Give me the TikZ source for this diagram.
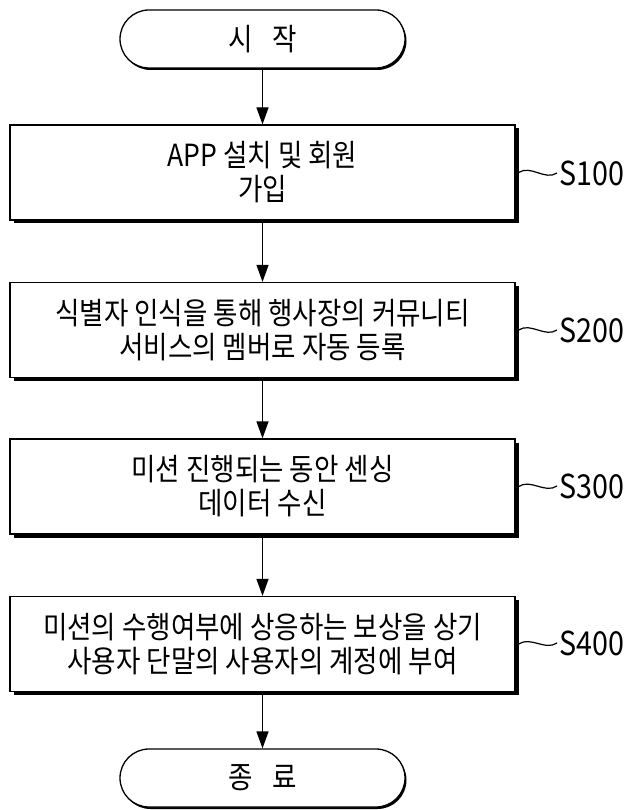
\documentclass[tikz,border=0pt]{standalone}
\usepackage{fontspec}
\setmainfont{Noto Sans CJK KR}[FakeStretch=0.87]
\usetikzlibrary{arrows.meta,shadows}
\begin{document}
\begin{tikzpicture}[x=1pt,y=-1pt,
  every node/.style={font=\fontsize{30.5}{34}\selectfont},
  stepbox/.style={draw, line width=1.3pt, fill=white, minimum width=505pt, minimum height=95pt,
    align=center, inner sep=0pt,
    general shadow={fill=black, shadow xshift=3.5pt, shadow yshift=-3.5pt}},
  term/.style={draw, line width=1.3pt, fill=white, rounded corners=29pt, minimum width=285pt,
    minimum height=58pt, inner sep=0pt,
    general shadow={fill=black, shadow xshift=1.5pt, shadow yshift=-2pt}},
  arr/.style={line width=1.3pt, -{Triangle[length=17pt,width=12pt]}},
  lab/.style={font=\fontsize{33}{34}\selectfont, anchor=west, inner sep=0pt},
  lead/.style={line width=1.2pt}
]
\useasboundingbox (0,0) rectangle (623,810);
\node[term] (st) at (262.5,39) {시\hspace{0.65em}작};
\node[stepbox] (b1) at (262.5,172.5) {APP 설치 및 회원\\가입};
\node[stepbox] (b2) at (262.5,330) {식별자 인식을 통해 행사장의 커뮤니티\\서비스의 멤버로 자동 등록};
\node[stepbox] (b3) at (262.5,486.5) {미션 진행되는 동안 센싱\\데이터 수신};
\node[stepbox] (b4) at (262.5,644) {미션의 수행여부에 상응하는 보상을 상기\\사용자 단말의 사용자의 계정에 부여};
\node[term] (en) at (262.5,778) {종\hspace{0.65em}료};
\node[lab] (l1) at (559,173) {S100};
\node[lab] (l2) at (559,330) {S200};
\node[lab] (l3) at (559,486) {S300};
\node[lab] (l4) at (559,643) {S400};
\draw[arr] (st) -- (b1);
\draw[arr] (b1) -- (b2);
\draw[arr] (b2) -- (b3);
\draw[arr] (b3) -- (b4);
\draw[arr] (b4) -- (en);
\foreach \i in {1,2,3,4}{
  \draw[lead] ([xshift=3pt]b\i.east) .. controls +(12,-8) and +(-12,8) .. ([xshift=-2pt]l\i.west);
}
\end{tikzpicture}
\end{document}
